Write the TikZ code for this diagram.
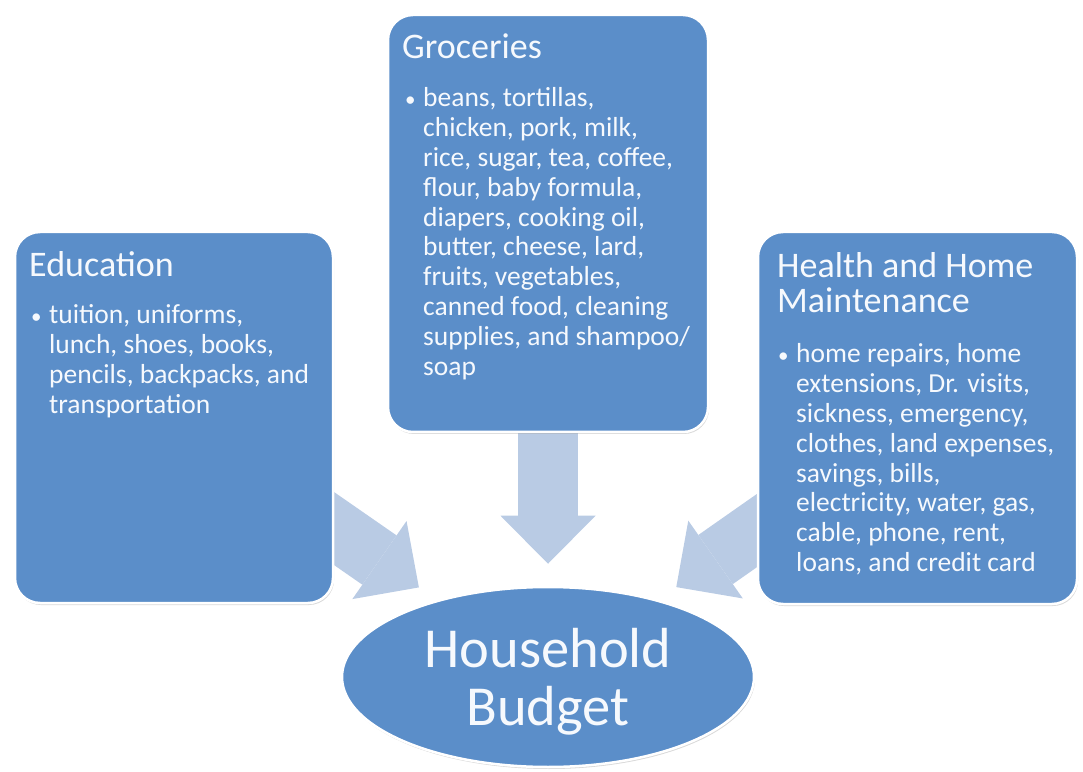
\documentclass[tikz,border=0pt]{standalone}
\usepackage{fontspec}
\setmainfont{Carlito}
\usetikzlibrary{arrows.meta,shapes.geometric,shadows,backgrounds}
\definecolor{boxblue}{RGB}{91,142,201}
\definecolor{arrowblue}{RGB}{185,203,228}
\definecolor{txt}{RGB}{246,249,253}
\tikzset{
  card/.style={draw=white,line width=2.5pt,fill=boxblue,rounded corners=25pt,
    drop shadow={shadow xshift=1pt,shadow yshift=-2pt,opacity=.3}},
  head/.style={font=\fontsize{36}{35}\selectfont,text=txt,inner sep=0pt,align=left},
  body/.style={font=\fontsize{27.5}{29.8}\selectfont,text=txt,inner sep=0pt},
  big/.style={font=\fontsize{56.5}{58}\selectfont,text=txt,inner sep=0pt,align=center},
  fat/.style={line width=60pt,draw=arrowblue,
    -{Triangle[width=95pt,length=48pt,line width=0pt]},shorten >=22pt}
}
\begin{document}
\begin{tikzpicture}[x=1pt,y=1pt]
  \useasboundingbox (0,0) rectangle (1083,771);
  \node[card,minimum width=318,minimum height=371] (edu) at (174,353.5) {};
  \node[card,minimum width=320,minimum height=417] (groc) at (548,547.5) {};
  \node[card,minimum width=319,minimum height=372] (hlth) at (917.5,353) {};
  \node[card,ellipse,minimum width=412,minimum height=180] (budget) at (548,94) {};

  % wide arrows behind the boxes
  \begin{scope}[on background layer]
    \draw[fat] (edu.center) -- (budget);
    \draw[fat] (groc.center) -- (budget);
    \draw[fat] (hlth.center) -- (budget);
  \end{scope}

  \node[head,anchor=base west] (eduH) at (29,494) {Education};
  \node[body,anchor=base west] (eduL) at (31,447) {\begin{tabular}[t]{@{}p{18pt}@{}l@{}}
    {\fontsize{21}{21}\selectfont\textbullet} & tuition, uniforms,\\
    & lunch, shoes, books,\\
    & pencils, backpacks, and\\
    & transportation\end{tabular}};

  \node[head,anchor=base west] (grocH) at (402,712) {Groceries};
  \node[body,anchor=base west] (grocL) at (405,664) {\begin{tabular}[t]{@{}p{18pt}@{}l@{}}
    {\fontsize{21}{21}\selectfont\textbullet} & beans, tortillas,\\
    & chicken, pork, milk,\\
    & rice, sugar, tea, coffee,\\
    & flour, baby formula,\\
    & diapers, cooking oil,\\
    & butter, cheese, lard,\\
    & fruits, vegetables,\\
    & canned food, cleaning\\
    & supplies, and shampoo/\\
    & soap\end{tabular}};

  \node[head,anchor=base west] (hlthH) at (777,458) {Health and Home\\Maintenance};
  \node[body,anchor=base west] (hlthL) at (778,408) {\begin{tabular}[t]{@{}p{18pt}@{}l@{}}
    {\fontsize{21}{21}\selectfont\textbullet} & home repairs, home\\
    & extensions, Dr. visits,\\
    & sickness, emergency,\\
    & clothes, land expenses,\\
    & savings, bills,\\
    & electricity, water, gas,\\
    & cable, phone, rent,\\
    & loans, and credit card\end{tabular}};

  \node[big,anchor=base] (budgetT) at (548,46) {Household\\Budget};
\end{tikzpicture}
\end{document}
